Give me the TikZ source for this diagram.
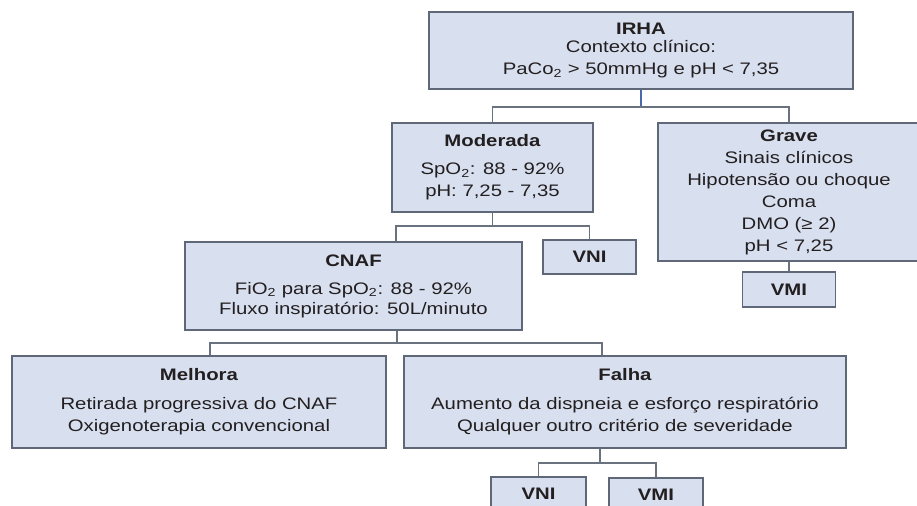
\documentclass[tikz,border=0pt]{standalone}
\usepackage{fontspec}
\setmainfont{Liberation Sans}[FakeStretch=1.22]
\definecolor{boxfill}{HTML}{D8E0F0}
\definecolor{bord}{HTML}{5E6878}
\definecolor{connc}{HTML}{6A7280}
\definecolor{bluec}{HTML}{4A68AC}
\definecolor{txt}{HTML}{231F20}
\tikzset{
  box/.style={draw=bord, fill=boxfill, line width=1.1pt, inner sep=0pt, align=center,
    text=txt, font=\fontsize{12.5}{16.5}\selectfont},
  conn/.style={draw=connc, line width=1.1pt},
  blueconn/.style={draw=bluec, line width=1.3pt}
}
\begin{document}
\begin{tikzpicture}[x=0.75pt,y=-0.75pt]
\clip (0,0) rectangle (917,506);
\node[box, minimum width=318pt, minimum height=57.75pt] (irha) at (641,50.5)
  {\textbf{IRHA}\\[-3pt]Contexto clínico:\\PaCo\textsubscript{2} > 50mmHg e pH < 7,35};
\node[box, minimum width=150.75pt, minimum height=66.75pt] (mod) at (492.5,167.5)
  {\textbf{Moderada}\\[4.5pt]SpO\textsubscript{2}: 88 - 92\%\\pH: 7,25 - 7,35};
\node[box, minimum width=196.5pt, minimum height=103.5pt] (grave) at (789,192)
  {\textbf{Grave}\\Sinais clínicos\\Hipotensão ou choque\\Coma\\DMO (≥ 2)\\pH < 7,25};
\node[box, minimum width=69.75pt, minimum height=26.25pt] (vmi1) at (789,289.5) {\textbf{VMI}};
\node[box, minimum width=69.75pt, minimum height=25.5pt] (vni1) at (589.5,257) {\textbf{VNI}};
\node[box, minimum width=252.75pt, minimum height=66pt] (cnaf) at (353.5,286)
  {\textbf{CNAF}\\[4.5pt]FiO\textsubscript{2} para SpO\textsubscript{2}: 88 - 92\%\\[-1.5pt]Fluxo inspiratório: 50L/minuto};
\node[box, minimum width=280.5pt, minimum height=69pt] (melh) at (199,402)
  {\textbf{Melhora}\\[5pt]Retirada progressiva do CNAF\\Oxigenoterapia convencional};
\node[box, minimum width=331.5pt, minimum height=69pt] (falha) at (625,402)
  {\textbf{Falha}\\[5pt]Aumento da dispneia e esforço respiratório\\Qualquer outro critério de severidade};
\node[box, minimum width=71.25pt, minimum height=25.5pt] (vni2) at (538.5,494) {\textbf{VNI}};
\node[box, minimum width=70.5pt, minimum height=25.5pt] (vmi2) at (656,495) {\textbf{VMI}};
% connectors
\coordinate (j0) at (641,107);
\coordinate (j1) at (396,226);
\coordinate (j2) at (397,343);
\coordinate (j2l) at (210,343);
\coordinate (j2r) at (602,343);
\coordinate (j3) at (600,463);
\draw[blueconn] (irha.south) -- (j0);
\draw[conn] (mod.north) -- (mod.north |- j0) -- (grave.north |- j0) -- (grave.north);
\draw[conn] (mod.south) -- (mod.south |- j1);
\draw[conn] (j1 |- cnaf.north) -- (j1) -- (j1 -| vni1.north) -- (vni1.north);
\draw[conn] (grave.south) -- (vmi1.north);
\draw[conn] (j2 |- cnaf.south) -- (j2);
\draw[conn] (j2l |- melh.north) -- (j2l) -- (j2r) -- (j2r |- falha.north);
\draw[conn] (j3 |- falha.south) -- (j3);
\draw[conn] (vni2.north) -- (vni2.north |- j3) -- (vmi2.north |- j3) -- (vmi2.north);
\end{tikzpicture}
\end{document}
